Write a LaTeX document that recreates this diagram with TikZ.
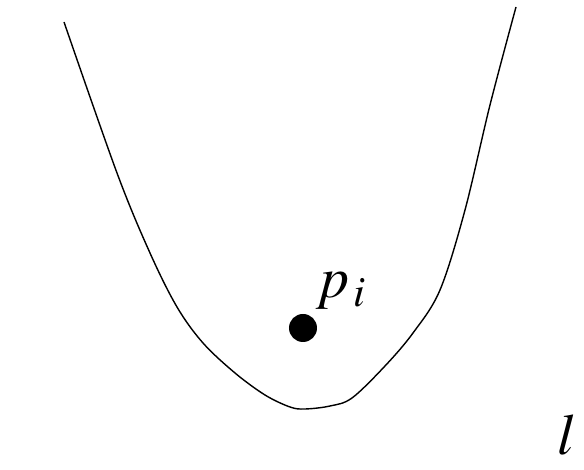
\documentclass[tikz,border=0pt]{standalone}
\usepackage{mathptmx}
\begin{document}
\begin{tikzpicture}[x=0.01cm,y=-0.01cm,font=\fontsize{16.5}{19}\selectfont]
  \useasboundingbox (0,0) rectangle (584,470);
  % Curve l
  \draw[line width=0.4pt] plot[smooth,tension=0.55] coordinates {
    (64,22) (117,173) (150,253) (177,307) (203,343) (235,373)
    (265,395) (290,407) (305,409) (330,406) (352,398) (385,366)
    (413,333) (440,290) (465,210) (490,105) (516,7)};
  % Point p_i
  \fill (303,328) circle (14);
  \node[anchor=base west,inner sep=0pt] (pi) at (315,298) {$p_{\,i}$};
  \node[anchor=base west,inner sep=0pt] (l) at (557,455) {$l$};
\end{tikzpicture}
\end{document}
